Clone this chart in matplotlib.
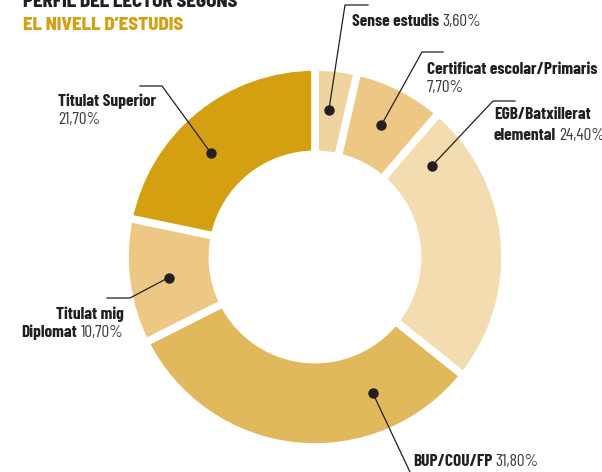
import numpy as np
import matplotlib.pyplot as plt

# dades
categories = ["Sense estudis", "Certificat escolar/Primaris", "EGB/Batxillerat\nelemental",
              "BUP/COU/FP", "Titulat mig\nDiplomat", "Titulat Superior"]
shares = [3.6, 7.7, 24.4, 31.8, 10.7, 21.7]
share_labels = ["3,60%", "7,70%", "24,40%", "31,80%", "10,70%", "21,70%"]
colors = ["#f0d4a0", "#ecc884", "#f2dcb0", "#e2b85c", "#ecc884", "#d4a012"]

W, H = 602, 472
fig = plt.figure(figsize=(W / 100, H / 100), dpi=100)

# donut
cx, cy, R = 315, 257, 190
ax = fig.add_axes([(cx - R) / W, (H - cy - R) / H, 2 * R / W, 2 * R / H])
ax.pie(shares, colors=colors, startangle=90, counterclock=False, radius=1,
       wedgeprops=dict(width=0.46, edgecolor="white", linewidth=5.5))
ax.set_xlim(-1, 1)
ax.set_ylim(-1, 1)
ax.axis("off")

# capa de textos en píxels
ov = fig.add_axes([0, 0, 1, 1], facecolor="none")
ov.set_xlim(0, W)
ov.set_ylim(H, 0)
ov.axis("off")

fam = ["Barlow Condensed", "DejaVu Sans"]
bold = dict(family=fam, fontweight=700, fontsize=12.5, color="#231f20")
reg = dict(family=fam, fontweight=400, fontsize=12.5, color="#3c3c3c")
tfam = ["Barlow Semi Condensed", "DejaVu Sans"]

# títol (tallat a dalt)
ov.text(23, 7, "PERFIL DEL LECTOR SEGONS", fontsize=13.5, fontweight=800,
        color="#231f20", va="baseline", family=tfam)
ov.text(23, 30, "EL NIVELL D\u2019ESTUDIS", fontsize=13.5, fontweight=800,
        color="#d4a012", va="baseline", family=tfam)

# punts i línies guia
dot_angles = [84.6, 63.3, 37.9, -67, 188, 135]
dot_r = 0.79 * 187
leaders = [[(345, 5), (368, 5)], [(422, 52), (443, 52)], [(493, 101), (515, 101)],
           [(410, 472)], [(130, 298), (107, 298)], [(162, 86), (140, 86)]]
for ang, pts in zip(dot_angles, leaders):
    dx = cx + dot_r * np.cos(np.radians(ang))
    dy = cy - dot_r * np.sin(np.radians(ang))
    xs = [dx] + [p[0] for p in pts]
    ys = [dy] + [p[1] for p in pts]
    ov.plot(xs, ys, color="#231f20", lw=0.9)
    ov.plot(dx, dy, "o", color="#231f20", ms=6.5)

fig.canvas.draw()
rend = fig.canvas.get_renderer()


def two_part(x, y, b, r, align="left"):
    if align == "left":
        t = ov.text(x, y, b, va="baseline", ha="left", **bold)
        w = t.get_window_extent(rend).width
        ov.text(x + w + 3, y, r, va="baseline", ha="left", **reg)
    else:
        t = ov.text(x, y, r, va="baseline", ha="right", **reg)
        w = t.get_window_extent(rend).width
        ov.text(x - w - 4, y, b, va="baseline", ha="right", **bold)


# etiquetes
two_part(352, 26, categories[0], share_labels[0])
ov.text(427, 74, categories[1], va="baseline", **bold)
ov.text(427, 92, share_labels[1], va="baseline", **reg)
ov.text(494, 119, "EGB/Batxillerat", va="baseline", **bold)
two_part(494, 140, "elemental", share_labels[2])
two_part(413, 466, categories[3], share_labels[3])
ov.text(124, 319, "Titulat mig", va="baseline", ha="right", **bold)
two_part(124, 337, "Diplomat", share_labels[4], align="right")
ov.text(58, 106, categories[5], va="baseline", **bold)
ov.text(58, 124, share_labels[5], va="baseline", **reg)

fig.savefig("out.png", dpi=100)
